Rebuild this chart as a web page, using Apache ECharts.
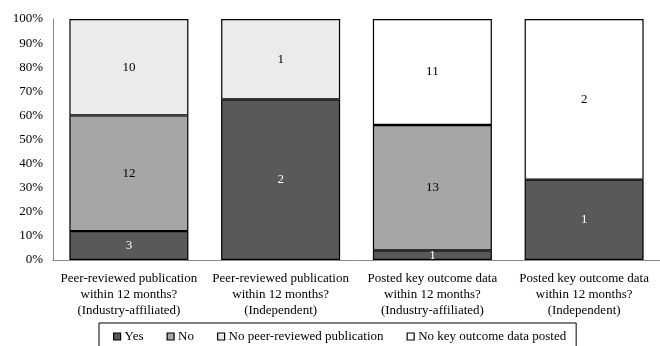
<!DOCTYPE html>
<html>
<head>
<meta charset="utf-8">
<style>
  html, body { margin: 0; padding: 0; background: #fff; }
  #chart { width: 660px; height: 346px; }
</style>
<script src="https://cdn.jsdelivr.net/npm/echarts@6/dist/echarts.min.js"></script>
</head>
<body>
<div id="chart"></div>
<script>
// Trial counts per outcome group
const categories = [
  'Peer-reviewed publication\nwithin 12 months?\n(Industry-affiliated)',
  'Peer-reviewed publication\nwithin 12 months?\n(Independent)',
  'Posted key outcome data\nwithin 12 months?\n(Industry-affiliated)',
  'Posted key outcome data\nwithin 12 months?\n(Independent)'
];
const seriesNames = ['Yes', 'No', 'No peer-reviewed publication', 'No key outcome data posted'];
const yesCounts = [3, 2, 1, 1];
const noCounts = [12, 0, 13, 0];
const noPublicationCounts = [10, 1, 0, 0];
const noDataPostedCounts = [0, 0, 11, 2];
const yTickLabels = ['0%', '10%', '20%', '30%', '40%', '50%', '60%', '70%', '80%', '90%', '100%'];

const countSets = [yesCounts, noCounts, noPublicationCounts, noDataPostedCounts];
const fills = ['#595959', '#a6a6a6', '#ebebeb', '#ffffff'];
const labelColors = ['#ffffff', '#000000', '#000000', '#000000'];
const totals = categories.map((_, i) => countSets.reduce((s, arr) => s + arr[i], 0));

const FONT = '"Liberation Serif", "Times New Roman", serif';

const series = countSets.map((counts, k) => ({
  name: seriesNames[k],
  type: 'bar',
  stack: 'share',
  barWidth: 119,
  data: counts.map((c, i) => c > 0 ? { value: c / totals[i] * 100, count: c } : null),
  itemStyle: { color: fills[k], borderColor: '#000', borderWidth: 1.2 },
  label: {
    show: true,
    position: 'inside',
    color: labelColors[k],
    fontFamily: FONT,
    fontSize: 13,
    formatter: p => p.data && p.data.count ? String(p.data.count) : ''
  },
  emphasis: { disabled: true }
}));

const chart = echarts.init(document.getElementById('chart'), null, { renderer: 'canvas' });
chart.setOption({
  animation: false,
  backgroundColor: '#fff',
  grid: { left: 53, top: 19, width: 614, height: 241, containLabel: false },
  xAxis: {
    type: 'category',
    data: categories,
    axisLine: { show: true, lineStyle: { color: '#888', width: 1 } },
    axisTick: { show: false },
    axisLabel: {
      interval: 0,
      margin: 11,
      color: '#000',
      fontFamily: FONT,
      fontSize: 13,
      lineHeight: 16,
      align: 'center'
    }
  },
  yAxis: {
    type: 'value',
    min: 0,
    max: 100,
    interval: 10,
    axisLine: { show: true, lineStyle: { color: '#888', width: 1 } },
    axisTick: { show: false },
    splitLine: { show: false },
    axisLabel: {
      margin: 10,
      color: '#000',
      fontFamily: FONT,
      fontSize: 13,
      formatter: v => yTickLabels[Math.round(v / 10)]
    }
  },
  legend: {
    left: 99,
    top: 323,
    orient: 'horizontal',
    data: seriesNames,
    icon: 'rect',
    itemWidth: 7,
    itemHeight: 7,
    itemGap: 23,
    padding: [7, 10, 20, 14],
    borderColor: '#000',
    borderWidth: 1,
    itemStyle: { borderColor: '#000', borderWidth: 1.2 },
    textStyle: { color: '#000', fontFamily: FONT, fontSize: 13, padding: [0, 0, 0, -1] },
    selectedMode: false
  },
  series: series
});
</script>
</body>
</html>
